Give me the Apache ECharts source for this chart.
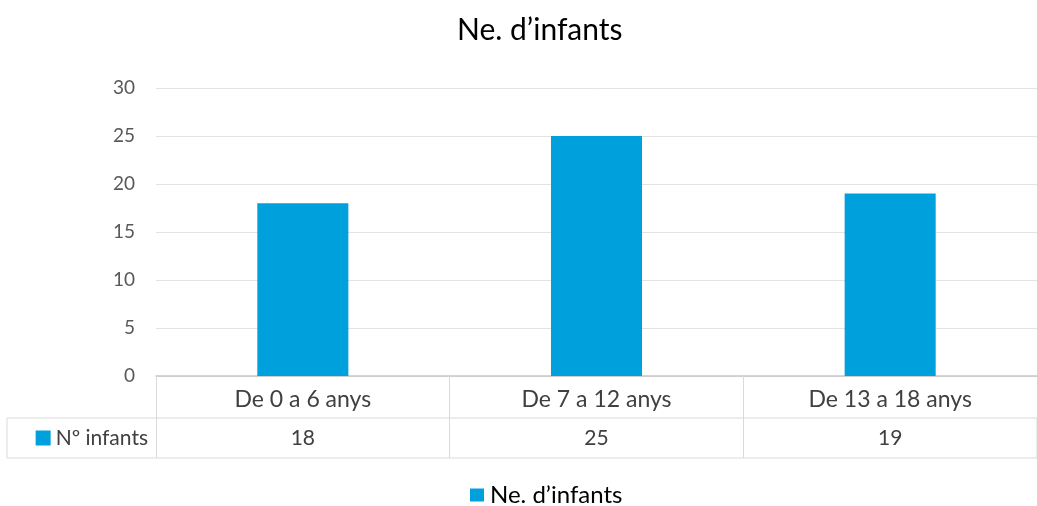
<!DOCTYPE html>
<html>
<head>
<meta charset="utf-8">
<script src="https://cdn.jsdelivr.net/npm/echarts@6/dist/echarts.min.js"></script>
<style>
  html, body { margin: 0; padding: 0; background: #fff; }
  #chart { width: 1037px; height: 506px; }
</style>
</head>
<body>
<div id="chart"></div>
<script>
const chartTitle = 'Ne. d\u2019infants';
const seriesName = 'Ne. d\u2019infants';
const rowLabel = 'N\u00ba infants';
const categories = ['De 0 a 6 anys', 'De 7 a 12 anys', 'De 13 a 18 anys'];
const values = [18, 25, 19];
const yTicks = { min: 0, max: 30, interval: 5 };

const BLUE = '#00a0dc';
const LINE = '#d9d9d9';

const chart = echarts.init(document.getElementById('chart'), null, { renderer: 'canvas' });
chart.setOption({
  animation: false,
  backgroundColor: '#ffffff',
  textStyle: { fontFamily: 'Lato' },
  title: {
    text: chartTitle,
    left: 452,
    top: 10,
    textStyle: { fontFamily: 'Lato', fontSize: 30, fontWeight: 'normal', color: '#000000' }
  },
  legend: {
    data: [seriesName],
    left: 465,
    top: 478,
    icon: 'rect',
    itemWidth: 14,
    itemHeight: 13,
    itemGap: 5,
    textStyle: { fontFamily: 'Lato', fontSize: 24, color: '#000000', padding: [0, 0, 0, 1] }
  },
  grid: [
    { left: 156, right: -8, top: 88, height: 288 },
    { left: 7, right: -8, top: 418, height: 40, show: true, borderColor: LINE, borderWidth: 1, backgroundColor: 'transparent' }
  ],
  xAxis: [
    {
      type: 'category',
      gridIndex: 0,
      data: categories,
      axisLine: { show: true, lineStyle: { color: '#c8c8c8', width: 1.5 } },
      axisTick: { show: true, length: 82, alignWithLabel: false, lineStyle: { color: LINE } },
      axisLabel: { margin: 12, fontSize: 23, color: '#404040', fontFamily: 'Lato' }
    },
    {
      type: 'category',
      gridIndex: 0,
      position: 'bottom',
      offset: 42,
      data: categories,
      axisLine: { show: false },
      axisTick: { show: false },
      axisLabel: {
        margin: 10, fontSize: 21, color: '#404040', fontFamily: 'Lato',
        formatter: function (v, i) { return String(values[i]); }
      },
      name: '{m|}{t|' + rowLabel + '}',
      nameLocation: 'start',
      nameGap: 8,
      nameTextStyle: {
        padding: [40, 0, 0, 0],
        rich: {
          m: { width: 15, height: 15, backgroundColor: BLUE },
          t: { fontSize: 21, color: '#404040', fontFamily: 'Lato', padding: [0, 0, 0, 5] }
        }
      }
    },
    { type: 'value', gridIndex: 1, show: false }
  ],
  yAxis: [
    {
      type: 'value',
      gridIndex: 0,
      min: yTicks.min,
      max: yTicks.max,
      interval: yTicks.interval,
      axisLine: { show: false },
      axisTick: { show: false },
      axisLabel: { margin: 21, fontSize: 19, color: '#595959', fontFamily: 'Lato' },
      splitLine: { lineStyle: { color: '#e3e3e3', width: 1 } }
    },
    { type: 'value', gridIndex: 1, show: false }
  ],
  series: [
    {
      name: seriesName,
      type: 'bar',
      xAxisIndex: 0,
      yAxisIndex: 0,
      data: values,
      barWidth: '31%',
      itemStyle: { color: BLUE }
    }
  ]
});
</script>
</body>
</html>
